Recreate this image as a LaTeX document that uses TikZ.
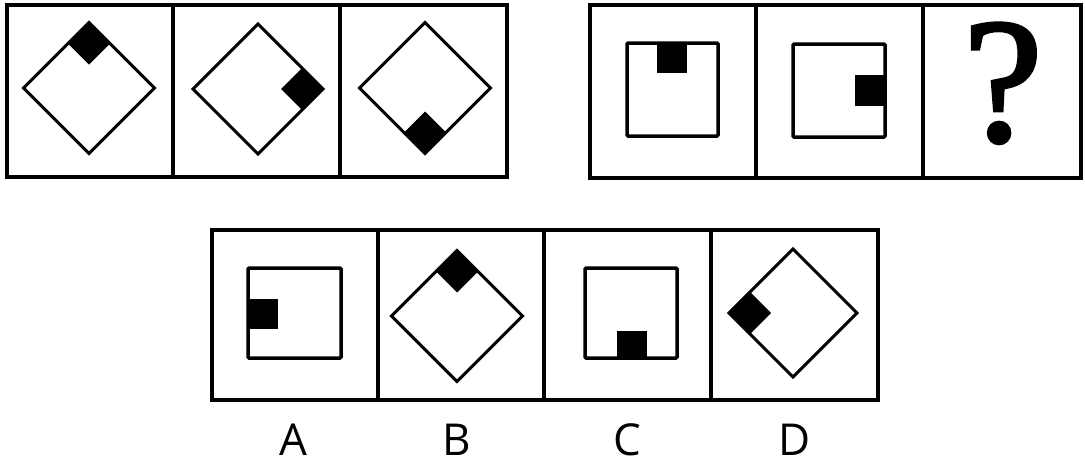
\documentclass[tikz,border=0pt]{standalone}
\usepackage{fontspec}
\setmainfont{Open Sans}
\newfontfamily\qfont[FakeBold=2]{Liberation Serif}
\begin{document}
\begin{tikzpicture}[x=1pt,y=-1pt,
  frame/.style={line width=3.5pt},
  fig/.style={line width=3pt},
  inner/.style={line width=3.5pt,rounded corners=1pt},
  blk/.style={fill=black,draw=none},
  lab/.style={anchor=base,inner sep=0pt,font=\fontsize{44}{44}\selectfont}]
\useasboundingbox (0,0) rectangle (1085,466);
% ---------- top left strip ----------
\draw[frame] (7,5) rectangle (507,177);
\draw[frame] (173,5) -- (173,177);
\draw[frame] (340,5) -- (340,177);
% cell 1: black at top
\fill[blk] (89,22.5) -- (110,43.5) -- (89,64.5) -- (68,43.5) -- cycle;
\draw[fig] (89,22.5) -- (154.5,88) -- (89,153.5) -- (23.5,88) -- cycle;
% cell 2: black at right
\fill[blk] (323,89) -- (302,110) -- (281,89) -- (302,68) -- cycle;
\draw[fig] (258,24) -- (323,89) -- (258,154) -- (193,89) -- cycle;
% cell 3: black at bottom
\fill[blk] (425,153.5) -- (404,132.5) -- (425,111.5) -- (446,132.5) -- cycle;
\draw[fig] (425,22.5) -- (490.5,88) -- (425,153.5) -- (359.5,88) -- cycle;
% ---------- top right strip ----------
\draw[frame] (590,5) rectangle (1081,178);
\draw[frame] (756,5) -- (756,178);
\draw[frame] (923,5) -- (923,178);
% cell 4
\fill[blk] (657,43) rectangle (687,73);
\draw[inner] (627,43) rectangle (718,136);
% cell 5
\fill[blk] (855,75) rectangle (885,106);
\draw[inner] (793,44) rectangle (885,137);
% cell 6
\node[anchor=base,inner sep=0pt,font=\qfont\fontsize{178}{178}\selectfont] (q) at (1003,141) {?};
% ---------- bottom strip ----------
\draw[frame] (212,230) rectangle (878,400);
\draw[frame] (378,230) -- (378,400);
\draw[frame] (544,230) -- (544,400);
\draw[frame] (711,230) -- (711,400);
% A
\fill[blk] (248,299) rectangle (278,329);
\draw[inner] (248,268) rectangle (341,358);
% B
\fill[blk] (457,250.5) -- (478,271.5) -- (457,292.5) -- (436,271.5) -- cycle;
\draw[fig] (457,250.5) -- (522.5,316) -- (457,381.5) -- (391.5,316) -- cycle;
% C
\fill[blk] (617,331) rectangle (647,358);
\draw[inner] (585,268) rectangle (677,358);
% D
\fill[blk] (729,313) -- (750,292) -- (771,313) -- (750,334) -- cycle;
\draw[fig] (793,249) -- (857,313) -- (793,377) -- (729,313) -- cycle;
% labels
\node[lab] (la) at (293,455) {A};
\node[lab] (lb) at (456.5,455) {B};
\node[lab] (lc) at (627.5,455) {C};
\node[lab] (ld) at (795,455) {D};
\end{tikzpicture}
\end{document}
